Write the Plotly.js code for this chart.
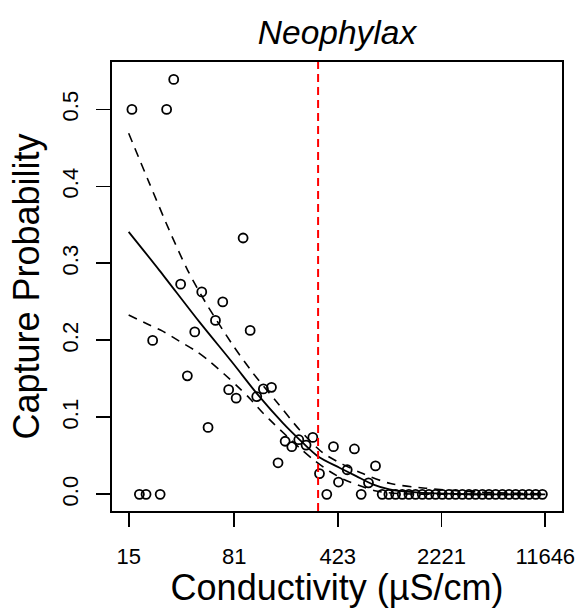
<!DOCTYPE html>
<html>
<head>
<meta charset="utf-8">
<script src="https://cdn.plot.ly/plotly-3.0.1.min.js"></script>
<style>
html,body{margin:0;padding:0;background:#fff;}
#chart{width:582px;height:608px;}
</style>
</head>
<body>
<div id="chart"></div>
<script>
// Observed capture probabilities
const obsConductivity = [15.8, 27.5, 30.8, 93.3, 34.4, 48.2, 67.4, 60, 43.1, 104.4, 22.0, 38.3, 74.1, 83.5, 116, 129, 146.8, 53.3, 182.6, 203, 227, 255, 284, 163, 316, 395, 428, 552, 492, 773, 691, 355, 615, 17.8, 19.8, 24.8,
  860, 957, 1065, 1185, 1318, 1466, 1631, 1815, 2018, 2245, 2498, 2779, 3092, 3439, 3826, 4257, 4736, 5268, 5861, 6521, 7254, 8070, 8978, 9988, 11112];
const obsProbability = [0.5, 0.5, 0.539, 0.333, 0.273, 0.263, 0.25, 0.226, 0.211, 0.213, 0.2, 0.154, 0.136, 0.125, 0.127, 0.137, 0.139, 0.087, 0.069, 0.062, 0.071, 0.064, 0.074, 0.041, 0.027, 0.062, 0.016, 0.059, 0.032, 0.037, 0.015, 0, 0, 0, 0, 0,
  0, 0, 0, 0, 0, 0, 0, 0, 0, 0, 0, 0, 0, 0, 0, 0, 0, 0, 0, 0, 0, 0, 0, 0, 0];

// Fitted curve
const fitConductivity = [15, 24.5, 46.4, 79.1, 117.9, 175.7, 229.5, 307, 435, 568, 740, 967, 1561, 2958, 11646];
const fitProbability  = [0.341, 0.291, 0.224, 0.1706, 0.1295, 0.0929, 0.0712, 0.0496, 0.0346, 0.0237, 0.013, 0.0065, 0.0022, 0.0005, 0.0];

// Upper confidence band
const upperConductivity = [15, 20.9, 28.7, 38.5, 51.7, 79.1, 108.8, 158.1, 229.5, 333.1, 458.4, 630.9, 982, 1719, 4073, 11646];
const upperProbability  = [0.469, 0.404, 0.343, 0.291, 0.248, 0.194, 0.158, 0.121, 0.084, 0.054, 0.039, 0.027, 0.014, 0.008, 0.003, 0.0005];

// Lower confidence band
const lowerConductivity = [15, 20.9, 25.8, 33.7, 44.0, 54.5, 69.2, 85.6, 103.2, 127.6, 153.9, 229.5, 291.6, 370.7, 471, 630.9, 781.6, 1134, 2521, 11646];
const lowerProbability  = [0.233, 0.220, 0.212, 0.199, 0.186, 0.173, 0.156, 0.140, 0.125, 0.106, 0.091, 0.0605, 0.044, 0.030, 0.019, 0.010, 0.0043, 0.001, 0.0001, 0];

// Threshold
const thresholdConductivity = 309;

// Axis ticks
const xTickValues = [15, 81, 423, 2221, 11646];
const xTickLabels = ['15', '81', '423', '2221', '11646'];
const yTickValues = [0, 0.1, 0.2, 0.3, 0.4, 0.5];
const yTickLabels = ['0.0', '0.1', '0.2', '0.3', '0.4', '0.5'];

const xMin = Math.log10(15), xMax = Math.log10(11646);
const xPad = (xMax - xMin) * 0.04;
const yLo = 0, yHi = 0.54, yPad = (yHi - yLo) * 0.04;
const yRange = [yLo - yPad, yHi + yPad];

const FONT = 'Liberation Sans, Arial, Helvetica, sans-serif';

const traces = [
  {
    x: obsConductivity, y: obsProbability, type: 'scatter', mode: 'markers',
    marker: {symbol: 'circle-open', size: 9, color: '#000', line: {width: 1.8, color: '#000'}},
    hoverinfo: 'skip', cliponaxis: false
  },
  {
    x: lowerConductivity, y: lowerProbability, type: 'scatter', mode: 'lines',
    line: {color: '#000', width: 1.6, dash: '9px,7px', shape: 'spline', smoothing: 0.8},
    hoverinfo: 'skip'
  },
  {
    x: upperConductivity, y: upperProbability, type: 'scatter', mode: 'lines',
    line: {color: '#000', width: 1.6, dash: '9px,7px', shape: 'spline', smoothing: 0.8},
    hoverinfo: 'skip'
  },
  {
    x: fitConductivity, y: fitProbability, type: 'scatter', mode: 'lines',
    line: {color: '#000', width: 1.8, shape: 'spline', smoothing: 0.8},
    hoverinfo: 'skip'
  },
  {
    x: [thresholdConductivity, thresholdConductivity], y: yRange, type: 'scatter', mode: 'lines',
    line: {color: '#ff0000', width: 2, dash: '8px,5px'},
    hoverinfo: 'skip'
  }
];

const layout = {
  width: 582, height: 608,
  margin: {l: 112, r: 20, t: 62, b: 97},
  paper_bgcolor: '#fff', plot_bgcolor: '#fff',
  showlegend: false,
  font: {family: FONT, color: '#000'},
  title: {
    text: '<i>Neophylax</i>',
    font: {family: FONT, size: 33.5, color: '#000'},
    x: 0.5, xref: 'paper', xanchor: 'center',
    y: 1 - 32/608, yref: 'container', yanchor: 'middle'
  },
  xaxis: {
    type: 'log',
    range: [xMin - xPad, xMax + xPad],
    tickmode: 'array', tickvals: xTickValues, ticktext: xTickLabels,
    ticks: 'outside', ticklen: 14, tickwidth: 1.8, tickcolor: '#000',
    tickfont: {family: FONT, size: 22, color: '#000'},
    ticklabelstandoff: 11,
    showline: true, linecolor: '#000', linewidth: 2, mirror: true,
    showgrid: false, zeroline: false,
    title: {text: 'Conductivity (µS/cm)', font: {family: FONT, size: 36, color: '#000'}, standoff: 1}
  },
  yaxis: {
    range: yRange,
    tickmode: 'array', tickvals: yTickValues, ticktext: yTickLabels,
    tickangle: -90,
    ticks: 'outside', ticklen: 14, tickwidth: 1.8, tickcolor: '#000',
    tickfont: {family: FONT, size: 22, color: '#000'},
    ticklabelstandoff: 9,
    showline: true, linecolor: '#000', linewidth: 2, mirror: true,
    showgrid: false, zeroline: false,
    title: {text: 'Capture Probability', font: {family: FONT, size: 36, color: '#000'}, standoff: 8}
  }
};

Plotly.newPlot('chart', traces, layout, {displayModeBar: false, staticPlot: true});
</script>
</body>
</html>
